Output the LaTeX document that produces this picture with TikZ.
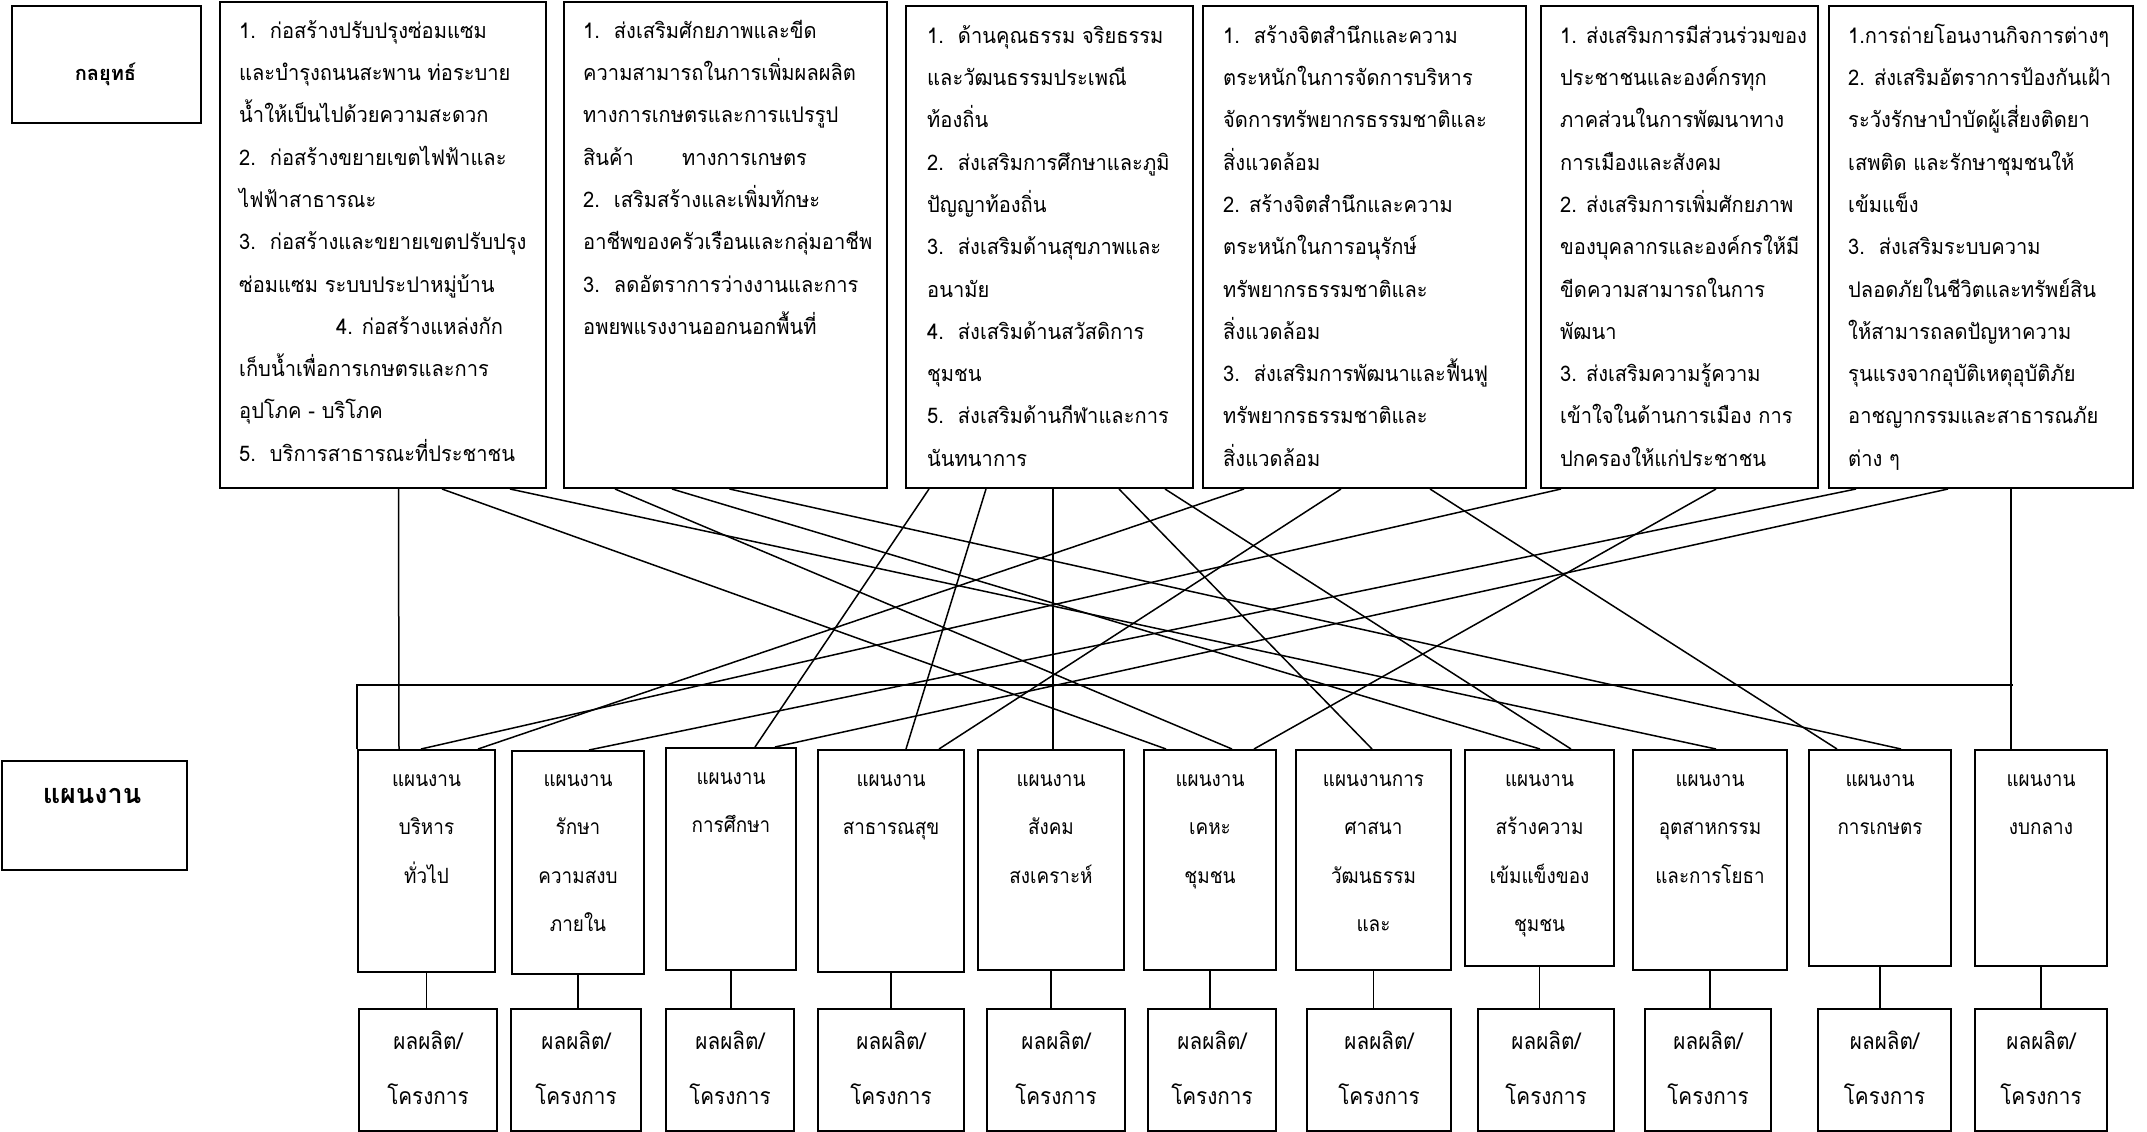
\documentclass[tikz,border=0pt]{standalone}
\usepackage{fontspec}
\newfontfamily\thai[Script=Thai,FakeStretch=0.9]{Loma}
\newfontfamily\thais[Script=Thai,FakeStretch=0.935]{Loma}
\newfontfamily\thaib[Script=Thai]{Loma}
\usetikzlibrary{calc}
\tikzset{
  bx/.style={draw, line width=2pt, rectangle, inner sep=0pt, anchor=north west},
  conn/.style={line width=1.5pt},
  stxt/.style={anchor=north west, align=left, inner sep=0pt, font=\thais\fontsize{21.5}{42.3}\selectfont},
  ptxt/.style={anchor=north, align=center, inner sep=0pt, font=\thai\fontsize{21}{48.5}\selectfont},
  qtxt/.style={anchor=north, align=center, inner sep=0pt, font=\thai\fontsize{23}{55}\selectfont},
  lbl/.style={anchor=base, inner sep=0pt}
}
\newcommand\bxn[5]{\node[bx, minimum width={#4-#2}, minimum height={#5-#3}] (#1) at (#2,#3) {};}
\newcommand\cn[4]{\draw[conn] ($(#1.south west)+(#2,0)$) -- ($(#3.north west)+(#4,0)$);}
\newcommand\pq[1]{\draw[conn] (p#1.south) -- (p#1.south |- q#1.north);}
\newcommand\dsp{\hspace{14pt}}
\newcommand\tst{\rule{0pt}{30pt}}
\newcommand\qst{\rule{0pt}{32pt}}
\begin{document}
\begin{tikzpicture}[x=1pt,y=-1pt]
\useasboundingbox (0,0) rectangle (2147,1132);

% label boxes
\bxn{lk}{11}{5}{200}{122}
\node[lbl, font=\thaib\bfseries\fontsize{20}{24}\selectfont] (lkt) at (105.5,81) {กลยุทธ์};
\bxn{lp}{1}{760}{186}{869}
\node[lbl, font=\thaib\bfseries\fontsize{27}{31}\selectfont] (lpt) at (92,803) {แผนงาน};

% strategy boxes
\bxn{s1}{219}{1}{545}{487}
\bxn{s2}{563}{1}{886}{487}
\bxn{s3}{905}{5}{1192}{487}
\bxn{s4}{1202}{5}{1525}{487}
\bxn{s5}{1540}{5}{1817}{487}
\bxn{s6}{1828}{5}{2132}{487}

\node[stxt] (s1t) at ($(s1.north west)+(20,7)$) {\tst 1.\dsp ก่อสร้างปรับปรุงซ่อมแซม\\และบำรุงถนนสะพาน ท่อระบาย\\น้ำให้เป็นไปด้วยความสะดวก\\2.\dsp ก่อสร้างขยายเขตไฟฟ้าและ\\ไฟฟ้าสาธารณะ\\3.\dsp ก่อสร้างและขยายเขตปรับปรุง\\ซ่อมแซม ระบบประปาหมู่บ้าน\\\hspace*{97pt}4. ก่อสร้างแหล่งกัก\\เก็บน้ำเพื่อการเกษตรและการ\\อุปโภค - บริโภค\\5.\dsp บริการสาธารณะที่ประชาชน};
\node[stxt] (s2t) at ($(s2.north west)+(20,7)$) {\tst 1.\dsp ส่งเสริมศักยภาพและขีด\\ความสามารถในการเพิ่มผลผลิต\\ทางการเกษตรและการแปรรูป\\\makebox[99pt][l]{สินค้า}ทางการเกษตร\\2.\dsp เสริมสร้างและเพิ่มทักษะ\\อาชีพของครัวเรือนและกลุ่มอาชีพ\\3.\dsp ลดอัตราการว่างงานและการ\\อพยพแรงงานออกนอกพื้นที่};
\node[stxt] (s3t) at ($(s3.north west)+(22,8)$) {\tst 1.\dsp ด้านคุณธรรม จริยธรรม\\และวัฒนธรรมประเพณี\\ท้องถิ่น\\2.\dsp ส่งเสริมการศึกษาและภูมิ\\ปัญญาท้องถิ่น\\3.\dsp ส่งเสริมด้านสุขภาพและ\\อนามัย\\4.\dsp ส่งเสริมด้านสวัสดิการ\\ชุมชน\\5.\dsp ส่งเสริมด้านกีฬาและการ\\นันทนาการ};
\node[stxt] (s4t) at ($(s4.north west)+(21,8)$) {\tst 1.\dsp สร้างจิตสำนึกและความ\\ตระหนักในการจัดการบริหาร\\จัดการทรัพยากรธรรมชาติและ\\สิ่งแวดล้อม\\2. สร้างจิตสำนึกและความ\\ตระหนักในการอนุรักษ์\\ทรัพยากรธรรมชาติและ\\สิ่งแวดล้อม\\3.\dsp ส่งเสริมการพัฒนาและฟื้นฟู\\ทรัพยากรธรรมชาติและ\\สิ่งแวดล้อม};
\node[stxt] (s5t) at ($(s5.north west)+(20,8)$) {\tst 1. ส่งเสริมการมีส่วนร่วมของ\\ประชาชนและองค์กรทุก\\ภาคส่วนในการพัฒนาทาง\\การเมืองและสังคม\\2. ส่งเสริมการเพิ่มศักยภาพ\\ของบุคลากรและองค์กรให้มี\\ขีดความสามารถในการ\\พัฒนา\\3. ส่งเสริมความรู้ความ\\เข้าใจในด้านการเมือง การ\\ปกครองให้แก่ประชาชน};
\node[stxt] (s6t) at ($(s6.north west)+(20,8)$) {\tst 1.การถ่ายโอนงานกิจการต่างๆ\\2. ส่งเสริมอัตราการป้องกันเฝ้า\\ระวังรักษาบำบัดผู้เสี่ยงติดยา\\เสพติด และรักษาชุมชนให้\\เข้มแข็ง\\3.\dsp ส่งเสริมระบบความ\\ปลอดภัยในชีวิตและทรัพย์สิน\\ให้สามารถลดปัญหาความ\\รุนแรงจากอุบัติเหตุอุบัติภัย\\อาชญากรรมและสาธารณภัย\\ต่าง ๆ};

% plan boxes
\bxn{p1}{357}{749}{494}{971}
\bxn{p2}{511}{750}{643}{973}
\bxn{p3}{665}{747}{795}{969}
\bxn{p4}{817}{749}{963}{971}
\bxn{p5}{977}{749}{1123}{969}
\bxn{p6}{1143}{749}{1275}{969}
\bxn{p7}{1295}{749}{1450}{969}
\bxn{p8}{1464}{749}{1613}{965}
\bxn{p9}{1632}{749}{1786}{969}
\bxn{p10}{1808}{749}{1950}{965}
\bxn{p11}{1974}{749}{2106}{965}

\node[ptxt] (p1t) at ($(p1.north)+(0,7)$) {\tst แผนงาน\\บริหาร\\ทั่วไป};
\node[ptxt] (p2t) at ($(p2.north)+(0,6)$) {\tst แผนงาน\\รักษา\\ความสงบ\\ภายใน};
\node[ptxt] (p3t) at ($(p3.north)+(0,7)$) {\tst แผนงาน\\การศึกษา};
\node[ptxt] (p4t) at ($(p4.north)+(0,7)$) {\tst แผนงาน\\สาธารณสุข};
\node[ptxt] (p5t) at ($(p5.north)+(0,7)$) {\tst แผนงาน\\สังคม\\สงเคราะห์};
\node[ptxt] (p6t) at ($(p6.north)+(0,7)$) {\tst แผนงาน\\เคหะ\\ชุมชน};
\node[ptxt] (p7t) at ($(p7.north)+(0,7)$) {\tst แผนงานการ\\ศาสนา\\วัฒนธรรม\\และ};
\node[ptxt] (p8t) at ($(p8.north)+(0,7)$) {\tst แผนงาน\\สร้างความ\\เข้มแข็งของ\\ชุมชน};
\node[ptxt] (p9t) at ($(p9.north)+(0,7)$) {\tst แผนงาน\\อุตสาหกรรม\\และการโยธา};
\node[ptxt] (p10t) at ($(p10.north)+(0,7)$) {\tst แผนงาน\\การเกษตร};
\node[ptxt] (p11t) at ($(p11.north)+(0,7)$) {\tst แผนงาน\\งบกลาง};

% product boxes
\bxn{q1}{358}{1008}{496}{1130}
\bxn{q2}{510}{1008}{640}{1130}
\bxn{q3}{665}{1008}{793}{1130}
\bxn{q4}{817}{1008}{963}{1130}
\bxn{q5}{986}{1008}{1124}{1130}
\bxn{q6}{1147}{1008}{1275}{1130}
\bxn{q7}{1306}{1008}{1450}{1130}
\bxn{q8}{1477}{1008}{1613}{1130}
\bxn{q9}{1644}{1008}{1770}{1130}
\bxn{q10}{1817}{1008}{1950}{1130}
\bxn{q11}{1974}{1008}{2106}{1130}

\foreach \i in {1,...,11}{
  \node[qtxt] (q\i t) at ($(q\i.north)+(0,9)$) {\qst ผลผลิต/\\โครงการ};
}

% plan -> product
\foreach \i in {1,...,11}{\pq{\i}}

% bus
\draw[conn] (p1.north west) -- ++(0,-64) -- ($(p11.north west)+(39,-64)$);

% strategy -> plan
\cn{s1}{179.5}{p1}{42}
\cn{s1}{223}{p6}{23}
\cn{s1}{291}{p9}{84}
\cn{s2}{52}{p6}{89}
\cn{s2}{109}{p8}{76}
\cn{s2}{166.5}{p10}{93}
\cn{s3}{24}{p3}{90}
\cn{s3}{81}{p4}{89}
\cn{s3}{148}{p5}{76}
\cn{s3}{214}{p7}{77}
\cn{s3}{260}{p8}{107}
\cn{s4}{42}{p1}{121}
\cn{s4}{139}{p4}{122}
\cn{s4}{228}{p10}{29}
\cn{s5}{21}{p1}{64}
\cn{s5}{176}{p6}{111}
\cn{s6}{28}{p2}{78}
\cn{s6}{120}{p3}{110}
\cn{s6}{183}{p11}{37}
\end{tikzpicture}
\end{document}
